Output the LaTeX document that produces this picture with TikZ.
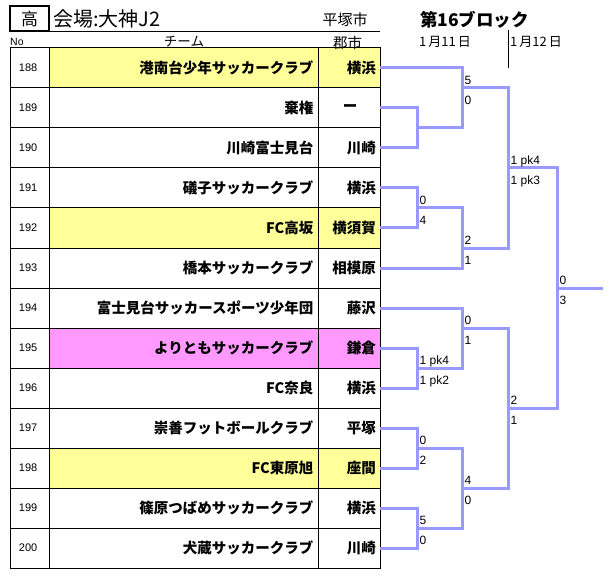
\documentclass[tikz,border=0pt]{standalone}
\usepackage{fontspec}
\setmainfont{Liberation Sans}
\newfontfamily\jp{Noto Sans CJK JP}
\definecolor{brk}{HTML}{9999FF}
\definecolor{yel}{HTML}{FFFF99}
\definecolor{pnk}{HTML}{FF99FF}
\tikzset{
 grid/.style={draw=black,line width=1pt},
 br/.style={draw=brk,line width=3pt,line join=miter},
 numtxt/.style={font=\fontsize{11}{11}\selectfont,inner sep=0,anchor=east},
 teamtxt/.style={font=\jp\bfseries\fontsize{14.5}{14.5}\selectfont,inner sep=0,anchor=east},
 sc/.style={font=\fontsize{12}{12}\selectfont,inner sep=0,anchor=base west},
 scup/.style={sc,xshift=2.5pt,yshift=3.7pt},
 scdn/.style={sc,xshift=2.5pt,yshift=-16.5pt},
 hdr/.style={inner sep=0},
}
\begin{document}
\begin{tikzpicture}[x=1pt,y=-1pt]
\fill[white] (0,0) rectangle (613,580);
\useasboundingbox (0,0) rectangle (613,580);
% cell fills
\foreach \i/\c in {0/yel,4/yel,7/pnk,10/yel}
  \fill[\c] (49,48+40*\i) rectangle (380,88+40*\i);
% grid
\draw[grid] (10,48) rectangle (380,568);
\draw[grid] (49,48) -- (49,568) (318,48) -- (318,568);
\foreach \i in {1,...,12} \draw[grid] (10,48+40*\i) -- (380,48+40*\i);
% rows
\foreach \i/\no/\team/\city/\anc/\cx in {
0/188/港南台少年サッカークラブ/横浜/east/376,
1/189/棄権/ー/center/350,
2/190/川崎富士見台/川崎/east/376,
3/191/礒子サッカークラブ/横浜/east/376,
4/192/FC高坂/横須賀/east/376,
5/193/橋本サッカークラブ/相模原/east/376,
6/194/富士見台サッカースポーツ少年団/藤沢/east/376,
7/195/よりともサッカークラブ/鎌倉/east/376,
8/196/FC奈良/横浜/east/376,
9/197/崇善フットボールクラブ/平塚/east/376,
10/198/FC東原旭/座間/east/376,
11/199/篠原つばめサッカークラブ/横浜/east/376,
12/200/犬蔵サッカークラブ/川崎/east/376}{
 \node[numtxt] (n\i) at (37.5,68+40*\i) {\no};
 \node[teamtxt] (t\i) at (313.5,68+40*\i) {\team};
 \node[teamtxt,anchor=\anc] (c\i) at (\cx,68+40*\i) {\city};
 \coordinate (e\i) at (380,68+40*\i);
}
% header
\draw[line width=2pt] (10,6) rectangle (49,31);
\node[hdr,font=\jp\fontsize{17}{17}\selectfont] (kou) at (29.5,19) {高};
\node[hdr,font=\jp\fontsize{20}{20}\selectfont,anchor=west] (venue) at (53,19) {会場:大神J2};
\node[hdr,font=\jp\fontsize{15}{15}\selectfont] (hcity0) at (345,20) {平塚市};
\draw[grid] (49,31.5) -- (380,31.5);
\node[hdr,font=\fontsize{10.5}{10.5}\selectfont,anchor=west] (hno) at (10,42) {No};
\node[hdr,font=\jp\fontsize{13.5}{13.5}\selectfont] (hteam) at (184,42) {チーム};
\node[hdr,font=\jp\fontsize{14.5}{14.5}\selectfont] (hcity) at (347.5,42.5) {郡市};
\node[hdr,font=\jp\bfseries\fontsize{17.5}{17.5}\selectfont] (blk) at (474.5,20) {第16ブロック};
\node[hdr,font=\jp\fontsize{13}{13}\selectfont] (d1) at (445,42) {1\,月11\,日};
\node[hdr,font=\jp\fontsize{13}{13}\selectfont] (d2) at (536,42) {1\,月12\,日};
\draw[line width=1pt] (508,30) -- (508,68);
% bracket junctions
\coordinate (m1) at (417,128);
\coordinate (m2) at (417,208);
\coordinate (m3) at (417,368);
\coordinate (m4) at (417,448);
\coordinate (m5) at (417,528);
\coordinate (q1) at (462,88);
\coordinate (q2) at (462,248);
\coordinate (q3) at (462,328);
\coordinate (q4) at (462,488);
\coordinate (s1) at (508,168);
\coordinate (s2) at (508,408);
\coordinate (f) at (557,288);
\coordinate (fe) at (603,288);
\draw[br] (e1) -| (m1) |- (e2);
\draw[br] (e3) -| (m2) |- (e4);
\draw[br] (e7) -| (m3) |- (e8);
\draw[br] (e9) -| (m4) |- (e10);
\draw[br] (e11) -| (m5) |- (e12);
\draw[br] (e0) -| (q1) |- (m1);
\draw[br] (m2) -| (q2) |- (e5);
\draw[br] (e6) -| (q3) |- (m3);
\draw[br] (m4) -| (q4) |- (m5);
\draw[br] (q1) -| (s1) |- (q2);
\draw[br] (q3) -| (s2) |- (q4);
\draw[br] (s1) -| (f) |- (s2);
\draw[br] (f) -- (fe);
% scores
\node[scup] (m2a) at (m2) {0}; \node[scdn] (m2b) at (m2) {4};
\node[scup] (m3a) at (m3) {1 pk4}; \node[scdn] (m3b) at (m3) {1 pk2};
\node[scup] (m4a) at (m4) {0}; \node[scdn] (m4b) at (m4) {2};
\node[scup] (m5a) at (m5) {5}; \node[scdn] (m5b) at (m5) {0};
\node[scup] (q1a) at (q1) {5}; \node[scdn] (q1b) at (q1) {0};
\node[scup] (q2a) at (q2) {2}; \node[scdn] (q2b) at (q2) {1};
\node[scup] (q3a) at (q3) {0}; \node[scdn] (q3b) at (q3) {1};
\node[scup] (q4a) at (q4) {4}; \node[scdn] (q4b) at (q4) {0};
\node[scup] (s1a) at (s1) {1 pk4}; \node[scdn] (s1b) at (s1) {1 pk3};
\node[scup] (s2a) at (s2) {2}; \node[scdn] (s2b) at (s2) {1};
\node[scup] (fa) at (f) {0}; \node[scdn] (fb) at (f) {3};
\end{tikzpicture}
\end{document}
